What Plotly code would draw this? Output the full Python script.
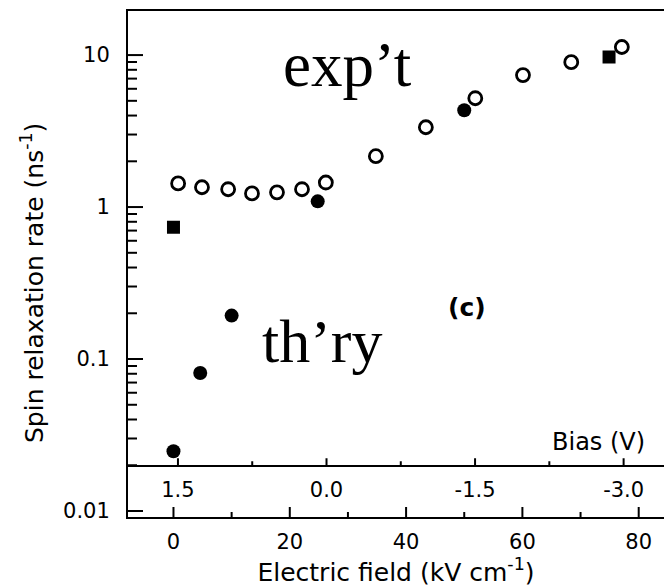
import numpy as np
import plotly.graph_objects as go

# ---- data -------------------------------------------------------------
# measured spin relaxation rate (open circles)
exp_field = [0.8, 4.9, 9.4, 13.5, 17.8, 22.1, 26.2, 34.8, 43.4, 51.9, 60.1, 68.4, 77.1]
exp_rate = [1.43, 1.35, 1.31, 1.23, 1.25, 1.31, 1.45, 2.16, 3.35, 5.20, 7.38, 8.98, 11.3]

# calculated rate, filled circles
thy_circ_field = [0.0, 4.6, 10.0, 24.8, 50.0]
thy_circ_rate = [0.0247, 0.081, 0.193, 1.09, 4.33]

# calculated rate, filled squares
thy_sq_field = [0.0, 74.9]
thy_sq_rate = [0.735, 9.7]

# bias scale shown inside the frame (volts)
bias_ticks = [1.5, 0.0, -1.5, -3.0]
bias_labels = ["1.5", "0.0", "-1.5", "-3.0"]
bias_minor = [0.75, -0.75, -2.25]
# field corresponding to a bias: E = FIELD_AT_15V + (1.5 - V) * FIELD_PER_VOLT
FIELD_AT_15V, FIELD_PER_VOLT = 0.77, 17.03

field_ticks = [0, 20, 40, 60, 80]
field_minor = [10, 30, 50, 70]
rate_ticks = [10, 1, 0.1, 0.01]
rate_labels = ["10", "1", "0.1", "0.01"]
rate_minor = [m * 10.0 ** k for k in (-2, -1, 0) for m in range(2, 10)]

# ---- geometry ---------------------------------------------------------
W, H = 664, 587
L, R, T, B = 128, 0, 11, 70
PW, PH = W - L - R, H - T - B

x_range = [-7.82, 84.35]
ylog_min, ylog_max = -2.0395, 1.29
bias_axis_level = 0.02  # the bias scale line sits at this rate value
split = np.log10(bias_axis_level)
bias_pos = (split - ylog_min) / (ylog_max - ylog_min)


def bias_to_field(v):
    return FIELD_AT_15V + (1.5 - v) * FIELD_PER_VOLT


def field_frac(e):
    """Field value -> fraction of the plot width."""
    return (e - x_range[0]) / (x_range[1] - x_range[0])


def rate_frac(r):
    """Rate value -> fraction of the plot height (log scale)."""
    return (np.log10(r) - ylog_min) / (ylog_max - ylog_min)


def px_x(p):
    return (p - L) / PW


def px_y(p):
    return (T + PH - p) / PH


SANS = "DejaVu Sans, Arial, sans-serif"
SERIF = "Liberation Serif, Times New Roman, serif"
tick_font = dict(family=SANS, size=21, color="black")
BLACK = "black"
TICK_W = 2  # tick thickness in pixels


# ---- tick marks pointing into the frame (thin filled bars) -------------
def vtick(e, base_rate, length_px):
    xc = field_frac(e)
    y0 = rate_frac(base_rate)
    half = TICK_W / 2 / PW
    return dict(type="rect", xref="paper", yref="paper",
                x0=xc - half, x1=xc + half, y0=y0, y1=y0 + length_px / PH,
                fillcolor=BLACK, line=dict(width=0), layer="above")


def htick(r, length_px):
    yc = rate_frac(r)
    half = TICK_W / 2 / PH
    return dict(type="rect", xref="paper", yref="paper",
                x0=0, x1=length_px / PW, y0=yc - half, y1=yc + half,
                fillcolor=BLACK, line=dict(width=0), layer="above")


bottom_rate = 10 ** ylog_min
shapes = (
    [vtick(v, bottom_rate, 10) for v in field_ticks]
    + [vtick(v, bottom_rate, 5) for v in field_minor]
    + [vtick(bias_to_field(v), bias_axis_level, 7) for v in bias_ticks]
    + [vtick(bias_to_field(v), bias_axis_level, 4) for v in bias_minor]
    + [htick(v, 15) for v in rate_ticks]
    + [htick(v, 9) for v in rate_minor]
)

fig = go.Figure()

fig.add_trace(go.Scatter(
    x=thy_sq_field, y=thy_sq_rate, mode="markers", name="th’ry",
    marker=dict(symbol="square", size=13, color=BLACK, line=dict(width=0)),
    showlegend=False))
fig.add_trace(go.Scatter(
    x=thy_circ_field, y=thy_circ_rate, mode="markers", name="th’ry",
    marker=dict(symbol="circle", size=14, color=BLACK, line=dict(width=0)),
    showlegend=False))
fig.add_trace(go.Scatter(
    x=exp_field, y=exp_rate, mode="markers", name="exp’t",
    marker=dict(symbol="circle", size=13, color="white",
                line=dict(color=BLACK, width=2.8)),
    showlegend=False))
# lower band: holds the electric-field axis
fig.add_trace(go.Scatter(x=[None], y=[None], xaxis="x2", yaxis="y2",
                         mode="markers", showlegend=False, hoverinfo="skip"))

no_grid = dict(showgrid=False, zeroline=False)
line = dict(showline=True, linecolor=BLACK, linewidth=2)

fig.update_layout(
    width=W, height=H, autosize=False,
    margin=dict(l=L, r=R, t=T, b=B, pad=0),
    paper_bgcolor="white", plot_bgcolor="white",
    shapes=shapes,
    # upper panel x axis: the bias scale (line at its bottom, frame line on top)
    xaxis=dict(
        domain=[0, 1], anchor="y", range=x_range, **no_grid, **line,
        mirror=True, side="bottom", ticks="",
        tickmode="array",
        tickvals=[bias_to_field(v) for v in bias_ticks], ticktext=bias_labels,
        tickfont=tick_font, ticklabelstandoff=5,
    ),
    yaxis=dict(
        domain=[bias_pos, 1], anchor="x", type="log",
        range=[split, ylog_max], **no_grid, **line, ticks="",
        tickmode="array", tickvals=rate_ticks, ticktext=rate_labels,
        tickfont=tick_font, ticklabelstandoff=12,
    ),
    # lower band: electric field axis
    xaxis2=dict(
        domain=[0, 1], anchor="y2", range=x_range, **no_grid, **line,
        ticks="", tickmode="array", tickvals=field_ticks,
        ticktext=[str(v) for v in field_ticks],
        tickfont=tick_font, ticklabelstandoff=5,
        title=dict(text="Electric field (kV cm<sup>-1</sup>)",
                   font=dict(family=SANS, size=25, color=BLACK),
                   standoff=0),
    ),
    yaxis2=dict(
        domain=[0, bias_pos], anchor="x2", type="log",
        range=[ylog_min, split], **no_grid, **line, ticks="",
        tickmode="array", tickvals=rate_ticks, ticktext=rate_labels,
        tickfont=tick_font, ticklabelstandoff=12,
    ),
    annotations=[
        dict(text="Spin relaxation rate (ns<sup>-1</sup>)", textangle=-90,
             xref="paper", yref="paper", x=px_x(32), y=px_y(283),
             xanchor="center", yanchor="middle", showarrow=False,
             font=dict(family=SANS, size=25, color=BLACK)),
        dict(text="exp’t", xref="paper", yref="paper",
             x=px_x(347), y=px_y(65), xanchor="center", yanchor="middle",
             showarrow=False, font=dict(family=SERIF, size=63, color=BLACK)),
        dict(text="th’ry", xref="paper", yref="paper",
             x=px_x(322), y=px_y(341), xanchor="center", yanchor="middle",
             showarrow=False, font=dict(family=SERIF, size=62, color=BLACK)),
        dict(text="<b>(c)</b>", xref="paper", yref="paper",
             x=px_x(467), y=px_y(307), xanchor="center", yanchor="middle",
             showarrow=False, font=dict(family=SANS, size=25, color=BLACK)),
        dict(text="Bias (V)", xref="paper", yref="paper",
             x=px_x(598), y=px_y(442), xanchor="center", yanchor="middle",
             showarrow=False, font=dict(family=SANS, size=24, color=BLACK)),
    ],
)

fig.write_html("out.html")
